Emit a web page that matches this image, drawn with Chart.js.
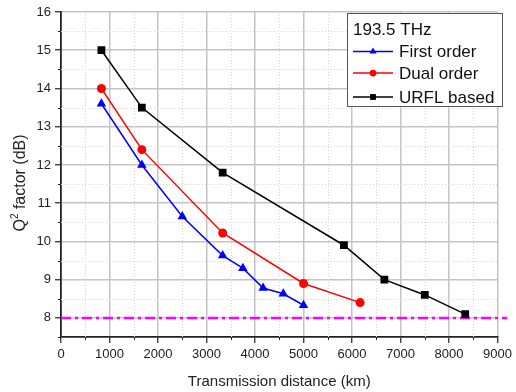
<!DOCTYPE html>
<html>
<head>
<meta charset="utf-8">
<script src="https://cdn.jsdelivr.net/npm/chart.js@4"></script>
<style>
  html, body { margin: 0; padding: 0; background: #fff; }
  #wrap { width: 516px; height: 392px; }
</style>
</head>
<body>
<div id="wrap"><canvas id="qChart" width="516" height="392"></canvas></div>
<script>
// distances in km, Q^2 in dB
const firstX = [833, 1667, 2500, 3333, 3750, 4167, 4583, 5000];
const firstQ = [13.6, 12.0, 10.65, 9.63, 9.3, 8.78, 8.63, 8.33];
const dualX = [833, 1667, 3333, 5000, 6167];
const dualQ = [14.0, 12.4, 10.22, 8.9, 8.4];
const urflX = [833, 1667, 3333, 5833, 6667, 7500, 8333];
const urflQ = [15.0, 13.5, 11.8, 9.9, 9.0, 8.6, 8.1];
const limitX = [0, 9200];
const limitQ = [8, 8];
const seriesNames = ['First order', 'Dual order', 'URFL based'];
const legendTitle = '193.5 THz';

const FONT = 'Arial, "Liberation Sans", sans-serif';

function pts(xs, ys) {
  return xs.map((x, i) => ({ x: x, y: ys[i] }));
}

// dotted minor grid + short minor ticks at the half steps
const minorGrid = {
  id: 'minorGrid',
  beforeDatasetsDraw(chart) {
    const { ctx, chartArea: a, scales } = chart;
    ctx.save();
    ctx.lineWidth = 1;
    scales.x.ticks.forEach(t => {
      if (t.value % 1000 !== 0) {
        const px = Math.round(scales.x.getPixelForValue(t.value)) + 0.5;
        ctx.strokeStyle = '#d6d6d6';
        ctx.setLineDash([1, 2]);
        ctx.beginPath(); ctx.moveTo(px, a.top); ctx.lineTo(px, a.bottom); ctx.stroke();
        ctx.strokeStyle = '#222';
        ctx.setLineDash([]);
        ctx.beginPath(); ctx.moveTo(px, a.bottom); ctx.lineTo(px, a.bottom + 3); ctx.stroke();
      }
    });
    scales.y.ticks.forEach(t => {
      if (t.value % 1 !== 0) {
        const py = Math.round(scales.y.getPixelForValue(t.value)) + 0.5;
        if (t.value > scales.y.min) {
          ctx.strokeStyle = '#d6d6d6';
          ctx.setLineDash([1, 2]);
          ctx.beginPath(); ctx.moveTo(a.left, py); ctx.lineTo(a.right, py); ctx.stroke();
        }
        ctx.strokeStyle = '#222';
        ctx.setLineDash([]);
        ctx.beginPath(); ctx.moveTo(a.left - 3, py); ctx.lineTo(a.left, py); ctx.stroke();
      }
    });
    ctx.restore();
  }
};

// y title placed like the original, slightly below the axis centre
const yTitle = {
  id: 'yTitle',
  afterDraw(chart) {
    const ctx = chart.ctx;
    ctx.save();
    ctx.translate(21, 183);
    ctx.rotate(-Math.PI / 2);
    ctx.fillStyle = '#222';
    ctx.textBaseline = 'middle';
    ctx.font = '16px ' + FONT;
    const q = 'Q', sup = '2', rest = ' factor (dB)';
    ctx.font = '16px ' + FONT;
    const wq = ctx.measureText(q).width;
    const wr = ctx.measureText(rest).width;
    ctx.font = '10px ' + FONT;
    const ws = ctx.measureText(sup).width;
    let x = -(wq + ws + wr) / 2;
    ctx.font = '16px ' + FONT;
    ctx.fillText(q, x, 0);
    x += wq;
    ctx.font = '10px ' + FONT;
    ctx.fillText(sup, x, -6);
    x += ws;
    ctx.font = '16px ' + FONT;
    ctx.fillText(rest, x, 0);
    ctx.restore();
  }
};

// boxed legend with title, like the original
const boxLegend = {
  id: 'boxLegend',
  afterDraw(chart) {
    const ctx = chart.ctx;
    const sets = chart.data.datasets;
    ctx.save();
    ctx.fillStyle = '#fff';
    ctx.fillRect(347, 13, 155, 93);
    ctx.strokeStyle = '#555';
    ctx.lineWidth = 1;
    ctx.strokeRect(347.5, 13.5, 155, 93);
    ctx.font = '17px ' + FONT;
    ctx.textBaseline = 'middle';
    ctx.fillStyle = '#111';
    ctx.fillText(legendTitle, 353, 30);
    const rows = [51.5, 73, 97];
    for (let i = 0; i < 3; i++) {
      const ds = sets[i];
      const y = rows[i];
      ctx.strokeStyle = ds.borderColor;
      ctx.lineWidth = 1.5;
      ctx.beginPath(); ctx.moveTo(353, y); ctx.lineTo(393, y); ctx.stroke();
      ctx.fillStyle = ds.pointBackgroundColor;
      Chart.helpers.drawPoint(ctx, {
        pointStyle: ds.pointStyle, radius: ds.pointRadius * 0.75, rotation: 0, borderWidth: 0
      }, 373, y);
      ctx.fillStyle = '#111';
      ctx.fillText(seriesNames[i], 399, y + 1);
    }
    ctx.restore();
  }
};

new Chart(document.getElementById('qChart').getContext('2d'), {
  type: 'line',
  data: {
    datasets: [
      {
        label: seriesNames[0], data: pts(firstX, firstQ),
        borderColor: '#0000ff', backgroundColor: '#0000ff', pointBackgroundColor: '#0000ff',
        borderWidth: 1.5, pointStyle: 'triangle', pointRadius: 5.5, pointBorderWidth: 0
      },
      {
        label: seriesNames[1], data: pts(dualX, dualQ),
        borderColor: '#ff0000', backgroundColor: '#ff0000', pointBackgroundColor: '#ff0000',
        borderWidth: 1.5, pointStyle: 'circle', pointRadius: 4.5, pointBorderWidth: 0
      },
      {
        label: seriesNames[2], data: pts(urflX, urflQ),
        borderColor: '#000000', backgroundColor: '#000000', pointBackgroundColor: '#000000',
        borderWidth: 1.5, pointStyle: 'rect', pointRadius: 5.5, pointBorderWidth: 0
      },
      {
        label: 'limit', data: pts(limitX, limitQ),
        borderColor: '#ff00ff', borderWidth: 2.5, borderDash: [10, 4, 3, 4],
        pointRadius: 0, clip: false
      }
    ]
  },
  options: {
    responsive: false,
    animation: false,
    layout: { padding: { top: 12, right: 14, left: 0, bottom: 0 } },
    plugins: { legend: { display: false }, tooltip: { enabled: false } },
    scales: {
      x: {
        type: 'linear', min: 0, max: 9000,
        afterFit(s) { s.height = 55; },
        ticks: {
          stepSize: 500, autoSkip: false, maxRotation: 0, padding: 4,
          color: '#222', font: { family: FONT, size: 13 },
          callback: v => (v % 1000 === 0 ? String(v) : '')
        },
        grid: {
          color: c => (c.tick && c.tick.value % 1000 === 0 && c.tick.value > 0 ? '#c4c4c4' : 'rgba(0,0,0,0)'),
          tickColor: c => (c.tick && c.tick.value % 1000 === 0 ? '#222' : 'rgba(0,0,0,0)'),
          lineWidth: 1.5, tickLength: 6, tickWidth: 1.2
        },
        border: { color: '#222', width: 1.8 },
        title: {
          display: true, text: 'Transmission distance (km)', color: '#222',
          font: { family: FONT, size: 15 }, padding: { top: 0, bottom: 1 }
        }
      },
      y: {
        min: 7.5, max: 16,
        afterFit(s) { s.width = 61; },
        ticks: {
          stepSize: 0.5, autoSkip: false, padding: 4,
          color: '#222', font: { family: FONT, size: 13 },
          callback: v => (v % 1 === 0 ? String(v) : '')
        },
        grid: {
          color: c => (c.tick && c.tick.value % 1 === 0 ? '#c4c4c4' : 'rgba(0,0,0,0)'),
          tickColor: c => (c.tick && c.tick.value % 1 === 0 ? '#222' : 'rgba(0,0,0,0)'),
          lineWidth: 1.5, tickLength: 6, tickWidth: 1.2
        },
        border: { color: '#222', width: 1.8 }
      }
    }
  },
  plugins: [minorGrid, yTitle, boxLegend]
});
</script>
</body>
</html>
